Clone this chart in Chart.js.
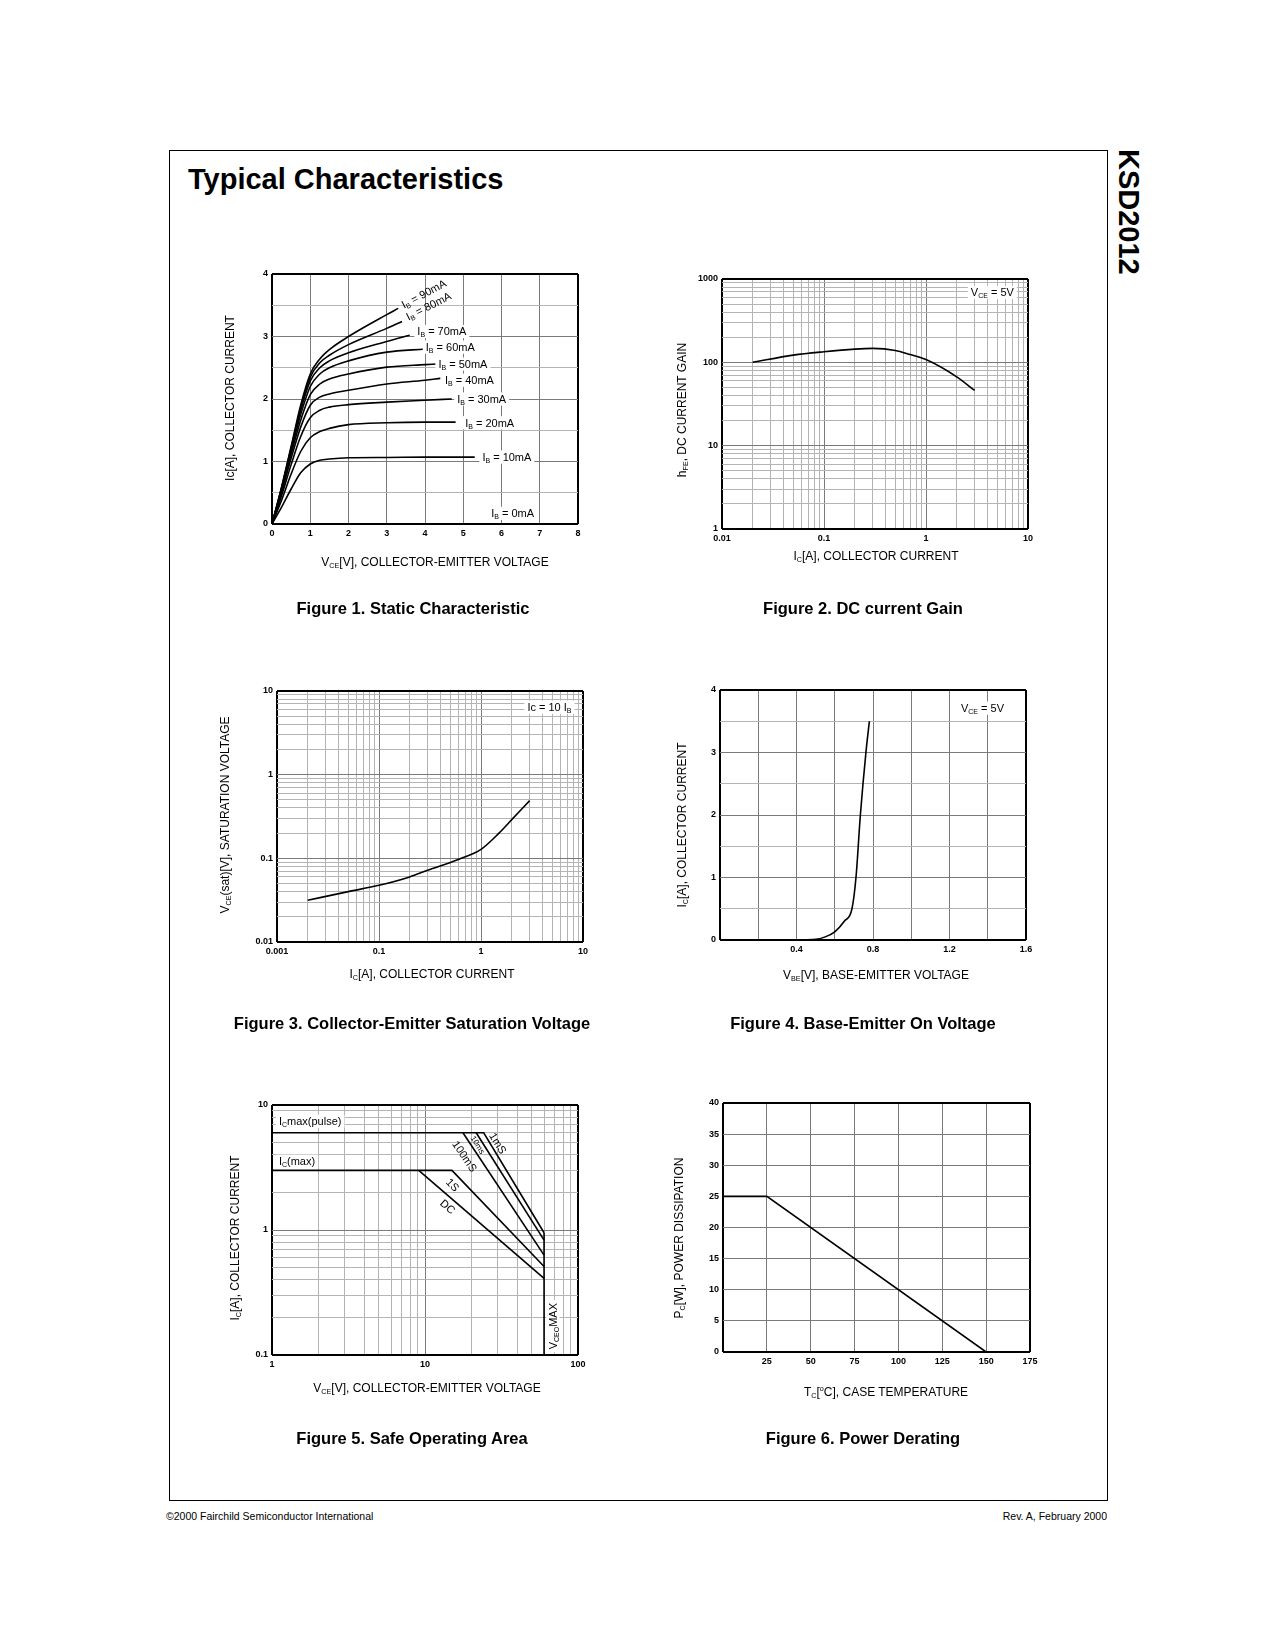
<!DOCTYPE html>
<html>
<head>
<meta charset="utf-8">
<script src="https://cdn.jsdelivr.net/npm/chart.js@4.4.1/dist/chart.umd.min.js"></script>
<style>
  body { margin: 0; background: #fff; }
  #page { position: relative; width: 1275px; height: 1650px; font-family: "Liberation Sans", Arial, Helvetica, sans-serif; color: #000; }
  .frame { position: absolute; left: 169px; top: 150px; width: 937px; height: 1349px; border: 1px solid #000; }
  .title { position: absolute; left: 188px; top: 162px; font-size: 29px; line-height: 34px; font-weight: bold; white-space: nowrap; }
  .side { position: absolute; left: 1145px; top: 149px; font-size: 29px; line-height: 33px; font-weight: bold; transform: rotate(90deg); transform-origin: 0 0; white-space: nowrap; }
  .t { position: absolute; width: 400px; font-size: 12px; line-height: 14px; text-align: center; white-space: nowrap; }
  .y { transform: rotate(-90deg); }
  .cap { position: absolute; width: 500px; font-size: 16.5px; line-height: 20px; font-weight: bold; text-align: center; white-space: nowrap; }
  .foot { position: absolute; top: 1509px; font-size: 10.5px; line-height: 14px; white-space: nowrap; }
  sub { font-size: 60%; vertical-align: -2px; line-height: 0; }
  sup { font-size: 60%; vertical-align: 5px; line-height: 0; }
  canvas { position: absolute; }
</style>
</head>
<body>
<div id="page">
  <div class="frame"></div>
  <div class="title">Typical Characteristics</div>
  <div class="side">KSD2012</div>

  <canvas id="fig1"></canvas>
  <canvas id="fig2"></canvas>
  <canvas id="fig3"></canvas>
  <canvas id="fig4"></canvas>
  <canvas id="fig5"></canvas>
  <canvas id="fig6"></canvas>

  <div class="t y" style="left:30px;top:391px">Ic[A], COLLECTOR CURRENT</div>
  <div class="t" style="left:235px;top:555px">V<sub>CE</sub>[V], COLLECTOR-EMITTER VOLTAGE</div>
  <div class="t y" style="left:482px;top:403px">h<sub>FE</sub>, DC CURRENT GAIN</div>
  <div class="t" style="left:676px;top:549px">I<sub>C</sub>[A], COLLECTOR CURRENT</div>
  <div class="t y" style="left:25px;top:808px">V<sub>CE</sub>(sat)[V], SATURATION VOLTAGE</div>
  <div class="t" style="left:232px;top:967px">I<sub>C</sub>[A], COLLECTOR CURRENT</div>
  <div class="t y" style="left:482px;top:818px">I<sub>C</sub>[A], COLLECTOR CURRENT</div>
  <div class="t" style="left:676px;top:968px">V<sub>BE</sub>[V], BASE-EMITTER VOLTAGE</div>
  <div class="t y" style="left:35px;top:1231px">I<sub>C</sub>[A], COLLECTOR CURRENT</div>
  <div class="t" style="left:227px;top:1381px">V<sub>CE</sub>[V], COLLECTOR-EMITTER VOLTAGE</div>
  <div class="t y" style="left:479px;top:1231px">P<sub>C</sub>[W], POWER DISSIPATION</div>
  <div class="t" style="left:686px;top:1385px">T<sub>C</sub>[<sup>o</sup>C], CASE TEMPERATURE</div>

  <div class="cap" style="left:163px;top:598px">Figure 1. Static Characteristic</div>
  <div class="cap" style="left:613px;top:598px">Figure 2. DC current Gain</div>
  <div class="cap" style="left:162px;top:1013px">Figure 3. Collector-Emitter Saturation Voltage</div>
  <div class="cap" style="left:613px;top:1013px">Figure 4. Base-Emitter On Voltage</div>
  <div class="cap" style="left:162px;top:1428px">Figure 5. Safe Operating Area</div>
  <div class="cap" style="left:613px;top:1428px">Figure 6. Power Derating</div>

  <div class="foot" style="left:166px">&copy;2000 Fairchild Semiconductor International</div>
  <div class="foot" style="left:807px;width:300px;text-align:right">Rev. A, February 2000</div>
</div>

<script>
// Figure 1 - static characteristic, one curve per base current
var ibLabels = ['0mA', '10mA', '20mA', '30mA', '40mA', '50mA', '60mA', '70mA', '80mA', '90mA'];
var ibVce = [
    [0, 5.5],
    [0, 0.25, 0.5, 0.75, 1, 1.25, 1.5, 2, 3, 4, 5.3],
    [0, 0.25, 0.5, 0.75, 1, 1.25, 1.5, 2, 3, 4, 4.8],
    [0, 0.25, 0.5, 0.75, 1, 1.25, 1.5, 2, 3, 4, 4.7],
    [0, 0.25, 0.5, 0.75, 1, 1.25, 1.5, 2, 3, 4, 4.4],
    [0, 0.25, 0.5, 0.75, 1, 1.25, 1.5, 2, 3, 4, 4.3],
    [0, 0.25, 0.5, 0.75, 1, 1.25, 1.5, 2, 3, 4],
    [0, 0.25, 0.5, 0.75, 1, 1.25, 1.5, 2, 3, 3.6],
    [0, 0.25, 0.5, 0.75, 1, 1.25, 1.5, 2, 3, 3.4],
    [0, 0.25, 0.5, 0.75, 1, 1.25, 1.5, 2, 3, 3.3]
];
var ibIc = [
    [0, 0],
    [0, 0.27, 0.56, 0.82, 0.96, 1.02, 1.04, 1.06, 1.065, 1.07, 1.07],
    [0, 0.38, 0.8, 1.16, 1.38, 1.48, 1.53, 1.59, 1.62, 1.63, 1.63],
    [0, 0.45, 0.95, 1.4, 1.7, 1.82, 1.87, 1.91, 1.95, 1.98, 2.0],
    [0, 0.5, 1.05, 1.55, 1.9, 2.03, 2.08, 2.14, 2.24, 2.3, 2.33],
    [0, 0.53, 1.12, 1.66, 2.07, 2.24, 2.32, 2.4, 2.51, 2.55, 2.56],
    [0, 0.55, 1.17, 1.75, 2.2, 2.4, 2.5, 2.61, 2.75, 2.8],
    [0, 0.57, 1.2, 1.82, 2.29, 2.5, 2.61, 2.74, 2.92, 3.02],
    [0, 0.58, 1.22, 1.86, 2.35, 2.58, 2.7, 2.87, 3.13, 3.24],
    [0, 0.59, 1.24, 1.9, 2.4, 2.64, 2.79, 3.0, 3.35, 3.45]
];

// Figure 2 - DC current gain
var gainIc = [0.02, 0.05, 0.1, 0.2, 0.3, 0.5, 0.7, 1, 2, 3];
var gainHfe = [100, 122, 134, 144, 147, 139, 124, 108, 67, 46];

// Figure 3 - saturation voltage
var satIc = [0.02, 0.05, 0.1, 0.2, 0.3, 0.6, 1, 1.5, 2, 3];
var satVce = [0.0315, 0.04, 0.0476, 0.06, 0.072, 0.097, 0.128, 0.2, 0.29, 0.49];

// Figure 4 - base-emitter on voltage
var onVbe = [0.4, 0.5, 0.55, 0.6, 0.65, 0.69, 0.711, 0.734, 0.763, 0.781];
var onIc = [0, 0.01, 0.05, 0.13, 0.3, 0.5, 1, 2, 3, 3.5];

// Figure 5 - safe operating area
var soaPulseV = [1, 24.2, 60];
var soaPulseI = [6, 6, 0.95];
var soa10msV = [21.6, 60];
var soa10msI = [6, 0.83];
var soa100msV = [17.7, 60];
var soa100msI = [6, 0.63];
var soaMaxV = [1, 15, 60];
var soaMaxI = [3, 3, 0.51];
var soaDcV = [9.1, 60];
var soaDcI = [3, 0.41];
var soaVceoV = [60, 60];
var soaVceoI = [0.1, 0.95];

// Figure 6 - power derating
var derateTc = [0, 25, 150];
var deratePc = [25, 25, 0];

// tick labels
var linX1 = [0, 1, 2, 3, 4, 5, 6, 7, 8];
var linY1 = [0, 1, 2, 3, 4];
var decades2X = [0.01, 0.1, 1, 10];
var decades2Y = [1, 10, 100, 1000];
var decades3X = [0.01, 0.1, 1, 10];
var text3X = ['0.001', '0.1', '1', '10'];
var decades3Y = [0.01, 0.1, 1, 10];
var lin4X = [0.4, 0.8, 1.2, 1.6];
var decades5X = [1, 10, 100];
var decades5Y = [0.1, 1, 10];
var lin6X = [25, 50, 75, 100, 125, 150, 175];
var lin6Y = [0, 5, 10, 15, 20, 25, 30, 35, 40];

var FONT = '"Liberation Sans", Arial, Helvetica, sans-serif';
var MAJOR = '#7a7a7a';
var MINOR = '#b4b4b4';

function same(a, b) {
    return Math.abs(a - b) <= Math.abs(b) * 1e-6 + 1e-12;
}

function linGrid(min, max, step) {
    var out = [];
    for (var v = min; v <= max + step / 1000; v += step) out.push(Math.round(v * 1e6) / 1e6);
    return out;
}

function logGrid(min, max) {
    var out = [];
    for (var e = Math.round(Math.log10(min)); e <= Math.round(Math.log10(max)); e++) {
        for (var k = 1; k <= 9; k++) {
            var v = Number((k * Math.pow(10, e)).toPrecision(6));
            if (v >= min && v <= max) out.push(v);
        }
    }
    return out;
}

function isDecade(v) {
    var l = Math.log10(v);
    return Math.abs(l - Math.round(l)) < 1e-6;
}

function axis(type, min, max, grid, tickVals, tickText, isMajor) {
    return {
        type: type,
        min: min,
        max: max,
        afterBuildTicks: function (s) {
            s.ticks = grid.map(function (v) { return { value: v }; });
        },
        afterFit: function (s) {
            if (s.isHorizontal()) s.height = 20; else s.width = 40;
        },
        ticks: {
            autoSkip: false,
            maxRotation: 0,
            minRotation: 0,
            padding: 4,
            color: '#000',
            font: { family: FONT, size: 9, weight: 'bold' },
            callback: function (v) {
                for (var i = 0; i < tickVals.length; i++) {
                    if (same(v, tickVals[i])) return tickText ? tickText[i] : String(tickVals[i]);
                }
                return '';
            }
        },
        grid: {
            drawTicks: false,
            color: function (c) {
                if (c.index === 0 || c.index === grid.length - 1) return '#000';
                return isMajor(c.tick.value) ? MAJOR : MINOR;
            },
            lineWidth: function (c) {
                return (c.index === 0 || c.index === grid.length - 1) ? 2 : 1;
            }
        },
        border: { display: false }
    };
}

function curve(xs, ys, smooth) {
    return {
        data: xs.map(function (x, i) { return { x: x, y: ys[i] }; }),
        showLine: true,
        borderColor: '#000',
        borderWidth: 1.6,
        pointRadius: 0,
        fill: false,
        tension: 0,
        cubicInterpolationMode: smooth ? 'monotone' : 'default'
    };
}

// text with subscripts, drawn at a data position
function drawNote(ctx, n, px, py) {
    var size = n.size || 11;
    var big = size + 'px ' + FONT;
    var small = Math.round(size * 0.62) + 'px ' + FONT;
    ctx.save();
    ctx.translate(px, py);
    if (n.rotate) ctx.rotate(n.rotate * Math.PI / 180);
    var w = 0;
    var segs = n.parts.map(function (p) {
        ctx.font = p[1] ? small : big;
        var m = ctx.measureText(p[0]).width;
        w += m;
        return { t: p[0], sub: p[1], w: m };
    });
    var x0 = n.align === 'center' ? -w / 2 : 0;
    if (n.bg) {
        ctx.fillStyle = '#fff';
        ctx.fillRect(x0 - 3, -size * 0.6, w + 6, size * 1.2);
    }
    ctx.fillStyle = '#000';
    ctx.textBaseline = 'alphabetic';
    segs.forEach(function (s) {
        ctx.font = s.sub ? small : big;
        ctx.fillText(s.t, x0, size * 0.36 + (s.sub ? size * 0.18 : 0));
        x0 += s.w;
    });
    ctx.restore();
}

function notesPlugin(notes) {
    return {
        id: 'notes',
        afterDatasetsDraw: function (chart) {
            notes.forEach(function (n) {
                drawNote(chart.ctx, n, chart.scales.x.getPixelForValue(n.x), chart.scales.y.getPixelForValue(n.y));
            });
        }
    };
}

function makeChart(id, box, xAxis, yAxis, datasets, notes) {
    var cv = document.getElementById(id);
    cv.width = box.w + 55;
    cv.height = box.h + 30;
    cv.style.left = (box.x - 40) + 'px';
    cv.style.top = (box.y - 10) + 'px';
    return new Chart(cv, {
        type: 'scatter',
        data: { datasets: datasets },
        options: {
            responsive: false,
            animation: false,
            devicePixelRatio: 1,
            events: [],
            layout: { padding: { top: 10, right: 15, left: 0, bottom: 0 } },
            plugins: { legend: { display: false }, tooltip: { enabled: false } },
            scales: { x: xAxis, y: yAxis }
        },
        plugins: [notesPlugin(notes)]
    });
}

function ib(i) {
    return [['I', 0], ['B', 1], [' = ' + ibLabels[i], 0]];
}

// Figure 1
makeChart('fig1', { x: 272, y: 274, w: 306, h: 250 },
    axis('linear', 0, 8, linGrid(0, 8, 1), linX1, null, function () { return true; }),
    axis('linear', 0, 4, linGrid(0, 4, 0.5), linY1, null, function (v) { return Number.isInteger(v); }),
    ibVce.map(function (xs, i) { return curve(xs, ibIc[i], true); }),
    [
        { x: 3.40, y: 3.50, parts: ib(9), rotate: -28 },
        { x: 3.52, y: 3.31, parts: ib(8), rotate: -27 },
        { x: 3.80, y: 3.08, parts: ib(7), bg: true },
        { x: 4.02, y: 2.83, parts: ib(6), bg: true },
        { x: 4.35, y: 2.56, parts: ib(5), bg: true },
        { x: 4.52, y: 2.30, parts: ib(4), bg: true },
        { x: 4.84, y: 2.00, parts: ib(3), bg: true },
        { x: 5.05, y: 1.62, parts: ib(2), bg: true },
        { x: 5.50, y: 1.07, parts: ib(1), bg: true },
        { x: 5.73, y: 0.17, parts: ib(0), bg: true }
    ]);

// Figure 2
makeChart('fig2', { x: 722, y: 279, w: 306, h: 250 },
    axis('logarithmic', 0.01, 10, logGrid(0.01, 10), decades2X, null, isDecade),
    axis('logarithmic', 1, 1000, logGrid(1, 1000), decades2Y, null, isDecade),
    [curve(gainIc, gainHfe, true)],
    [{ x: 2.75, y: 690, parts: [['V', 0], ['CE', 1], [' = 5V', 0]], bg: true }]);

// Figure 3
makeChart('fig3', { x: 277, y: 691, w: 306, h: 251 },
    axis('logarithmic', 0.01, 10, logGrid(0.01, 10), decades3X, text3X, isDecade),
    axis('logarithmic', 0.01, 10, logGrid(0.01, 10), decades3Y, null, isDecade),
    [curve(satIc, satVce, true)],
    [{ x: 2.85, y: 6.4, parts: [['Ic = 10 I', 0], ['B', 1]], bg: true }]);

// Figure 4
makeChart('fig4', { x: 720, y: 690, w: 306, h: 250 },
    axis('linear', 0, 1.6, linGrid(0, 1.6, 0.2), lin4X, null, function () { return true; }),
    axis('linear', 0, 4, linGrid(0, 4, 0.5), linY1, null, function (v) { return Number.isInteger(v); }),
    [curve(onVbe, onIc, true)],
    [{ x: 1.26, y: 3.71, parts: [['V', 0], ['CE', 1], [' = 5V', 0]], bg: true }]);

// Figure 5
makeChart('fig5', { x: 272, y: 1105, w: 306, h: 250 },
    axis('logarithmic', 1, 100, logGrid(1, 100), decades5X, null, isDecade),
    axis('logarithmic', 0.1, 10, logGrid(0.1, 10), decades5Y, null, isDecade),
    [
        curve(soaPulseV, soaPulseI, false),
        curve(soa10msV, soa10msI, false),
        curve(soa100msV, soa100msI, false),
        curve(soaMaxV, soaMaxI, false),
        curve(soaDcV, soaDcI, false),
        curve(soaVceoV, soaVceoI, false)
    ],
    [
        { x: 1.11, y: 7.4, parts: [['I', 0], ['C', 1], ['max(pulse)', 0]], bg: true },
        { x: 1.11, y: 3.55, parts: [['I', 0], ['C', 1], ['(max)', 0]], bg: true },
        { x: 30, y: 4.95, parts: [['1mS', 0]], rotate: 59, align: 'center' },
        { x: 22.2, y: 4.8, parts: [['10ms', 0]], rotate: 58, align: 'center', size: 8 },
        { x: 18.2, y: 3.9, parts: [['100mS', 0]], rotate: 56, align: 'center' },
        { x: 15.2, y: 2.3, parts: [['1S', 0]], rotate: 46, align: 'center' },
        { x: 14.1, y: 1.54, parts: [['DC', 0]], rotate: 41, align: 'center' },
        { x: 68.5, y: 0.17, parts: [['V', 0], ['CEO', 1], ['MAX', 0]], rotate: -90, align: 'center', bg: true }
    ]);

// Figure 6
makeChart('fig6', { x: 723, y: 1103, w: 307, h: 249 },
    axis('linear', 0, 175, linGrid(0, 175, 25), lin6X, null, function () { return true; }),
    axis('linear', 0, 40, linGrid(0, 40, 5), lin6Y, null, function () { return true; }),
    [curve(derateTc, deratePc, false)],
    []);
</script>
</body>
</html>
